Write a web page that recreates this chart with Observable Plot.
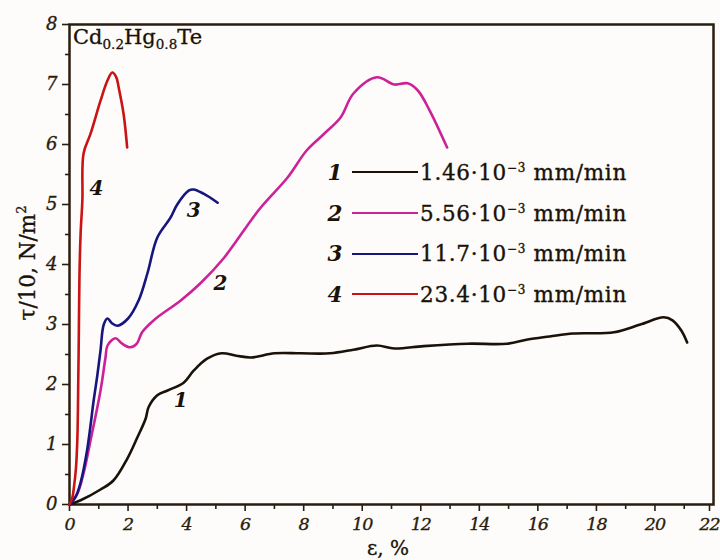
<!DOCTYPE html>
<html>
<head>
<meta charset="utf-8">
<script src="https://cdn.jsdelivr.net/npm/d3@7"></script>
<script src="https://cdn.jsdelivr.net/npm/@observablehq/plot@0.6"></script>
<style>
  html, body { margin: 0; padding: 0; background: #fdfcfa; }
  #wrap { position: relative; width: 720px; height: 560px; font-family: "DejaVu Serif", serif; color: #1a1208; }
  #title { position: absolute; left: 73px; top: 27px; font-size: 21px; line-height: 1; -webkit-text-stroke: 0.3px #1a1208; white-space: nowrap; }
  #title sub { font-size: 13.5px; vertical-align: -5px; }
  #ylab { position: absolute; left: 27px; top: 263px; transform: translate(-50%, -50%) rotate(-90deg); font-size: 21.5px; white-space: nowrap; -webkit-text-stroke: 0.3px #1a1208; }
  #ylab sup { font-size: 13px; }
  #xlab { position: absolute; left: 388px; top: 548px; transform: translate(-50%, -50%); font-size: 20px; white-space: nowrap; -webkit-text-stroke: 0.3px #1a1208; }
  #legend { position: absolute; left: 323px; top: 152px; }
  .row { display: flex; align-items: center; height: 40.7px; font-size: 21.5px; letter-spacing: 0.7px; white-space: nowrap; -webkit-text-stroke: 0.35px #1a1208; }
  .row .n { width: 24px; font-style: italic; text-align: center; font-weight: bold; -webkit-text-stroke: 0; letter-spacing: 0; }
  .row .ln { width: 66px; height: 0; border-top: 2.6px solid; margin-left: 5px; margin-right: 2px; }
  .row sup { font-size: 12px; }
  svg g[aria-label="x-axis tick label"] text { letter-spacing: -1px; }
</style>
</head>
<body>
<div id="wrap"></div>
<script>
// Series 1: 1.46e-3 mm/min
const x1 = [0, 0.38, 1.06, 1.5, 1.98, 2.32, 2.6, 2.7, 3.0, 3.35, 3.9, 4.24, 4.7, 5.2, 5.7, 6.2, 7.0, 7.9, 8.9, 9.7, 10.5, 11.1, 12.1, 13.6, 14.95, 15.65, 16.4, 17.2, 18.6, 19.5, 20.3, 20.6, 20.9, 21.1];
const y1 = [0, 0.07, 0.25, 0.4, 0.77, 1.12, 1.43, 1.62, 1.82, 1.9, 2.03, 2.23, 2.43, 2.52, 2.48, 2.45, 2.52, 2.52, 2.52, 2.58, 2.65, 2.6, 2.64, 2.68, 2.68, 2.75, 2.8, 2.85, 2.87, 3.0, 3.12, 3.07, 2.9, 2.7];
// Series 2: 5.56e-3 mm/min
const x2 = [0, 0.27, 0.48, 0.72, 1.06, 1.23, 1.3, 1.57, 1.8, 2.08, 2.3, 2.48, 2.9, 3.8, 4.5, 5.26, 6.5, 7.45, 8.1, 8.7, 9.26, 9.7, 10.5, 11.1, 11.55, 11.9, 12.3, 12.9];
const y2 = [0, 0.18, 0.52, 1.07, 1.9, 2.45, 2.65, 2.77, 2.68, 2.62, 2.68, 2.87, 3.08, 3.4, 3.7, 4.1, 4.93, 5.45, 5.9, 6.18, 6.45, 6.85, 7.12, 7.0, 7.02, 6.9, 6.57, 5.95];
// Series 3: 11.7e-3 mm/min
const x3 = [0, 0.2, 0.37, 0.6, 0.83, 0.95, 1.06, 1.17, 1.3, 1.45, 1.64, 2.0, 2.36, 2.66, 3.0, 3.45, 3.68, 4.07, 4.24, 4.58, 5.06];
const y3 = [0, 0.12, 0.35, 0.9, 1.75, 2.15, 2.57, 3.0, 3.1, 3.02, 2.98, 3.1, 3.4, 3.85, 4.45, 4.78, 5.0, 5.23, 5.25, 5.18, 5.03];
// Series 4: 23.4e-3 mm/min
const x4 = [0, 0.1, 0.15, 0.22, 0.27, 0.3, 0.32, 0.34, 0.38, 0.44, 0.48, 0.72, 1.06, 1.3, 1.46, 1.6, 1.68, 1.85, 1.97];
const y4 = [0, 0.12, 0.28, 0.6, 1.12, 2.07, 2.9, 3.8, 4.52, 5.07, 5.85, 6.18, 6.73, 7.07, 7.2, 7.12, 6.95, 6.5, 5.95];

const seriesIds = ["1", "2", "3", "4"];
const seriesColors = ["#1a1208", "#cc2299", "#16167e", "#c81414"];
const seriesRates = ["1.46", "5.56", "11.7", "23.4"];
// curve annotation positions (data units)
const labelX = [3.8, 5.16, 4.24, 0.92];
const labelY = [1.73, 3.68, 4.9, 5.27];

const xTicks = [0, 2, 4, 6, 8, 10, 12, 14, 16, 18, 20, 22];
const xMinor = [1, 3, 5, 7, 9, 11, 13, 15, 17, 19, 21];
const yTicks = [0, 1, 2, 3, 4, 5, 6, 7, 8];
const yMinor = [0.5, 1.5, 2.5, 3.5, 4.5, 5.5, 6.5, 7.5];

const xs = [x1, x2, x3, x4], ys = [y1, y2, y3, y4];
const data = [];
xs.forEach((xa, i) => xa.forEach((x, j) => data.push({s: seriesIds[i], x, y: ys[i][j]})));
const labels = seriesIds.map((s, i) => ({s, x: labelX[i], y: labelY[i]}));

const axisColor = "#2a1c0e";
const xTickOpts = {tickSize: 7, tickPadding: 6, fontSize: 17.5, fontStyle: "italic", label: null, strokeWidth: 1.6, textStroke: axisColor, textStrokeWidth: 0.35};
const chart = Plot.plot({
  width: 720, height: 560,
  marginLeft: 69, marginRight: 7, marginTop: 24, marginBottom: 56,
  style: {background: "transparent", fontFamily: "DejaVu Serif, serif", color: axisColor},
  x: {domain: [0, 22], label: null},
  y: {domain: [0, 8], label: null},
  color: {domain: seriesIds, range: seriesColors},
  marks: [
    Plot.axisX({ticks: xMinor, tickSize: 5, text: null, label: null, strokeWidth: 1.6}),
    Plot.axisX({ticks: xTicks.slice(0, -1), ...xTickOpts}),
    Plot.axisX({ticks: xTicks.slice(-1), ...xTickOpts, dx: -4}),
    Plot.axisY({ticks: yMinor, tickSize: 4, text: null, label: null, strokeWidth: 1.6}),
    Plot.axisY({ticks: yTicks, tickSize: 7, tickPadding: 5, fontSize: 18, fontStyle: "italic", label: null, strokeWidth: 1.6, textStroke: axisColor, textStrokeWidth: 0.35}),
    Plot.frame({stroke: axisColor, strokeWidth: 2.5}),
    Plot.line(data, {x: "x", y: "y", z: "s", stroke: "s", strokeWidth: 2.6, curve: "catmull-rom"}),
    Plot.text(labels, {x: "x", y: "y", text: "s", fontSize: 20, fontStyle: "italic", fontWeight: "bold", fill: "#1a1208"})
  ]
});

const wrap = document.getElementById("wrap");
wrap.appendChild(chart);

const title = document.createElement("div");
title.id = "title";
title.innerHTML = "Cd<sub>0.2</sub>Hg<sub>0.8</sub>Te";
wrap.appendChild(title);

const ylab = document.createElement("div");
ylab.id = "ylab";
ylab.innerHTML = "τ/10, N/m<sup>2</sup>";
wrap.appendChild(ylab);

const xlab = document.createElement("div");
xlab.id = "xlab";
xlab.textContent = "ε, %";
wrap.appendChild(xlab);

const legend = document.createElement("div");
legend.id = "legend";
seriesIds.forEach((s, i) => {
  const row = document.createElement("div");
  row.className = "row";
  row.innerHTML = `<span class="n">${s}</span><span class="ln" style="border-color:${seriesColors[i]}"></span><span>${seriesRates[i]}·10<sup>−3</sup> mm/min</span>`;
  legend.appendChild(row);
});
wrap.appendChild(legend);
</script>
</body>
</html>
